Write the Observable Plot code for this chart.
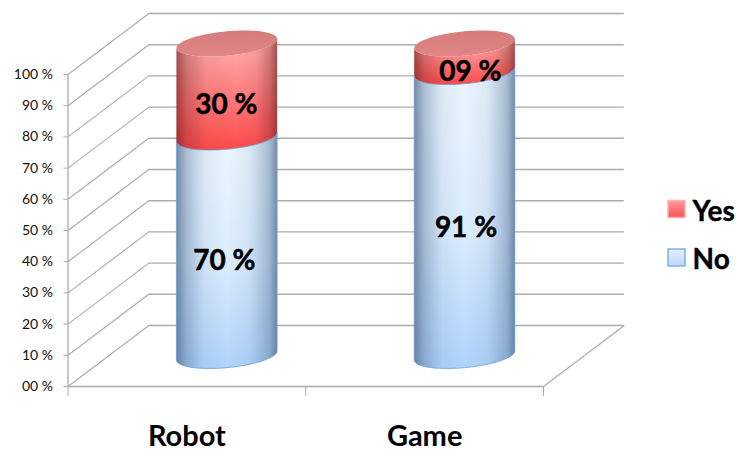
<!DOCTYPE html>
<html>
<head>
<meta charset="utf-8">
<script src="https://cdn.jsdelivr.net/npm/d3@7"></script>
<script src="https://cdn.jsdelivr.net/npm/@observablehq/plot@0.6"></script>
<style>
  html, body { margin: 0; padding: 0; background: #fff; }
  svg { display: block; }
</style>
</head>
<body>
<div id="chart"></div>
<script>
// Survey results, percent of answers per category
const categories = ["Robot", "Game"];
const noValues = [70, 91];
const yesValues = [30, 9];
const valueLabels = { no: ["70 %", "91 %"], yes: ["30 %", "09 %"] };
const yTicks = [0, 10, 20, 30, 40, 50, 60, 70, 80, 90, 100];
const yTickLabels = ["00 %", "10 %", "20 %", "30 %", "40 %", "50 %", "60 %", "70 %", "80 %", "90 %", "100 %"];
const legendNames = ["Yes", "No"];

// Oblique projection, in data units: x counts categories, y counts percent
const wallX = 0.34, wallY = 19.55;     // front plane to back wall
const radiusX = 0.2116;                // cylinder half width
const arcY = 3.9, shearY = 1.45;       // ellipse half height and tilt
const centerOf = i => i + 0.5 + wallX / 2;
const liftY = wallY / 2;

const steps = d3.range(0, 49).map(k => -Math.cos(k / 48 * Math.PI));
const lowerArc = (v, u) => v + liftY - arcY * Math.sqrt(1 - u * u) + shearY * u;
const upperArc = (v, u) => v + liftY + arcY * Math.sqrt(1 - u * u) + shearY * u;

// One outline per stacked segment, following the front of the cylinder
const segment = (values, base) => categories.flatMap((name, i) =>
  steps.map(u => ({
    name,
    x: centerOf(i) + radiusX * u,
    y1: lowerArc(base(i), u),
    y2: lowerArc(base(i) + values[i], u)
  })));
const noBody = segment(noValues, () => 0);
const yesBody = segment(yesValues, i => noValues[i]);
const caps = categories.flatMap((name, i) =>
  steps.map(u => ({
    name,
    x: centerOf(i) + radiusX * u,
    y1: lowerArc(noValues[i] + yesValues[i], u),
    y2: upperArc(noValues[i] + yesValues[i], u)
  })));

const slants = yTicks.map(v => ({ x1: 0, y1: v, x2: wallX, y2: v + wallY }));
const gridColor = "#ababab";

// Gradients used by the cylinders and the legend swatches
const stops = (id, dir, list) => `
  <linearGradient id="${id}" x1="0" y1="0" x2="${dir === "h" ? 1 : 0}" y2="${dir === "v" ? 1 : 0}">
    ${list.map(([o, c, a]) => `<stop offset="${o}" stop-color="${c}" stop-opacity="${a ?? 1}"/>`).join("")}
  </linearGradient>`;
const defs = () => {
  const g = document.createElementNS("http://www.w3.org/2000/svg", "defs");
  g.innerHTML =
    stops("noFill", "v", [[0, "#edf7ff"], [0.55, "#dcedff"], [1, "#b0d4fc"]]) +
    stops("yesFill", "v", [[0, "#ffb2b2"], [1, "#ff4a4a"]]) +
    stops("noShade", "h", [[0, "#4a5f80", 0.72], [0.1, "#4a6a90", 0.4], [0.28, "#5a7aa0", 0.1], [0.5, "#5a7aa0", 0], [0.72, "#5a7aa0", 0.1], [0.92, "#4a6a90", 0.42], [1, "#4a5f80", 0.72]]) +
    stops("yesShade", "h", [[0, "#702020", 0.65], [0.1, "#702020", 0.32], [0.3, "#702020", 0.06], [0.6, "#702020", 0], [0.8, "#702020", 0.08], [0.93, "#702020", 0.36], [1, "#702020", 0.65]]) +
    stops("capFill", "v", [[0, "#d77c7c"], [1, "#e08686"]]) +
    stops("yesSwatch", "v", [[0, "#ff9c9c"], [1, "#ff5050"]]) +
    stops("noSwatch", "v", [[0, "#e2efff"], [1, "#bcd8fb"]]);
  return g;
};

const bodyArea = (data, fill, extra = {}) =>
  Plot.areaY(data, { x: "x", y1: "y1", y2: "y2", z: "name", fill, ...extra });

// Small horizontal adjustments that keep each label optically centred
const noNudge = [-0.012, 0.004];
const yesNudge = [-0.004, 0.022];
const labelRows = [
  ...categories.map((name, i) => ({ x: centerOf(i) + noNudge[i], y: noValues[i] / 2 + liftY, text: valueLabels.no[i] })),
  ...categories.map((name, i) => ({ x: centerOf(i) + yesNudge[i], y: noValues[i] + yesValues[i] / 2 + liftY, text: valueLabels.yes[i] }))
];

const legendMarks = legendNames.flatMap((name, i) => [
  Plot.dot([name], {
    frameAnchor: "top-left", dx: 608.5, dy: 134.5 + i * 48.5, symbol: "square", r: 9.6,
    fill: i === 0 ? "url(#yesSwatch)" : "url(#noSwatch)",
    stroke: i === 0 ? "#ffb0b0" : "#7db2e0", strokeWidth: 1.5
  }),
  Plot.text([name], {
    text: d => d, frameAnchor: "top-left", dx: 624.5, dy: 138 + i * 48, lineAnchor: "middle",
    textAnchor: "start", fontSize: 28, fontWeight: 700, fill: "#000", stroke: "#000", strokeWidth: 0.4
  })
]);

const chart = Plot.plot({
  width: 736,
  height: 452,
  marginLeft: 67.5,
  marginRight: 193,
  marginTop: 74,
  marginBottom: 66,
  style: { fontFamily: "Lato, sans-serif", background: "#fff" },
  x: { domain: [0, 2], axis: null },
  y: { domain: [0, 100], axis: null },
  marks: [
    defs,
    // Back wall and the slanted side wall
    Plot.ruleY(yTicks, { y: d => d + wallY, x1: wallX, x2: 2 + wallX, stroke: gridColor, strokeWidth: 1.4 }),
    Plot.link(slants, { x1: "x1", y1: "y1", x2: "x2", y2: "y2", stroke: gridColor, strokeWidth: 1.1 }),
    Plot.link([0], { x1: 2, y1: 0, x2: 2 + wallX, y2: wallY, stroke: gridColor, strokeWidth: 1.1 }),
    Plot.ruleX([0], { y1: 0, y2: 100, stroke: gridColor, strokeWidth: 1.3 }),
    Plot.ruleY([0], { x1: 0, x2: 2, stroke: gridColor, strokeWidth: 1.3 }),
    Plot.axisY(yTicks, {
      label: null, tickSize: 4, tickPadding: 11, fontSize: 14, stroke: gridColor, fill: "#111",
      tickFormat: d => yTickLabels[yTicks.indexOf(d)]
    }),
    Plot.axisX([0, 1, 2], { label: null, tickSize: 10, stroke: gridColor, tickFormat: () => "" }),
    Plot.axisX([0.5, 1.5], {
      label: null, tickSize: 0, tickPadding: 39, fontSize: 29, fontWeight: 700, fill: "#000",
      tickFormat: d => categories[Math.floor(d)]
    }),
    // Cylinders
    bodyArea(noBody, "url(#noFill)"),
    bodyArea(noBody, "url(#noShade)"),
    bodyArea(yesBody, "url(#yesFill)"),
    bodyArea(yesBody, "url(#yesShade)"),
    bodyArea(noBody, "none", { stroke: "#6aa3d8", strokeWidth: 1, strokeOpacity: 0.8 }),
    bodyArea(caps, "url(#capFill)"),
    // Value labels sit on the front face of each segment
    Plot.text(labelRows, {
      x: "x", y: "y", text: "text", dy: 14, fontSize: 28, fontWeight: 700, fill: "#000", stroke: "#000", strokeWidth: 0.5
    }),
    ...legendMarks
  ]
});
document.getElementById("chart").append(chart);
</script>
</body>
</html>
